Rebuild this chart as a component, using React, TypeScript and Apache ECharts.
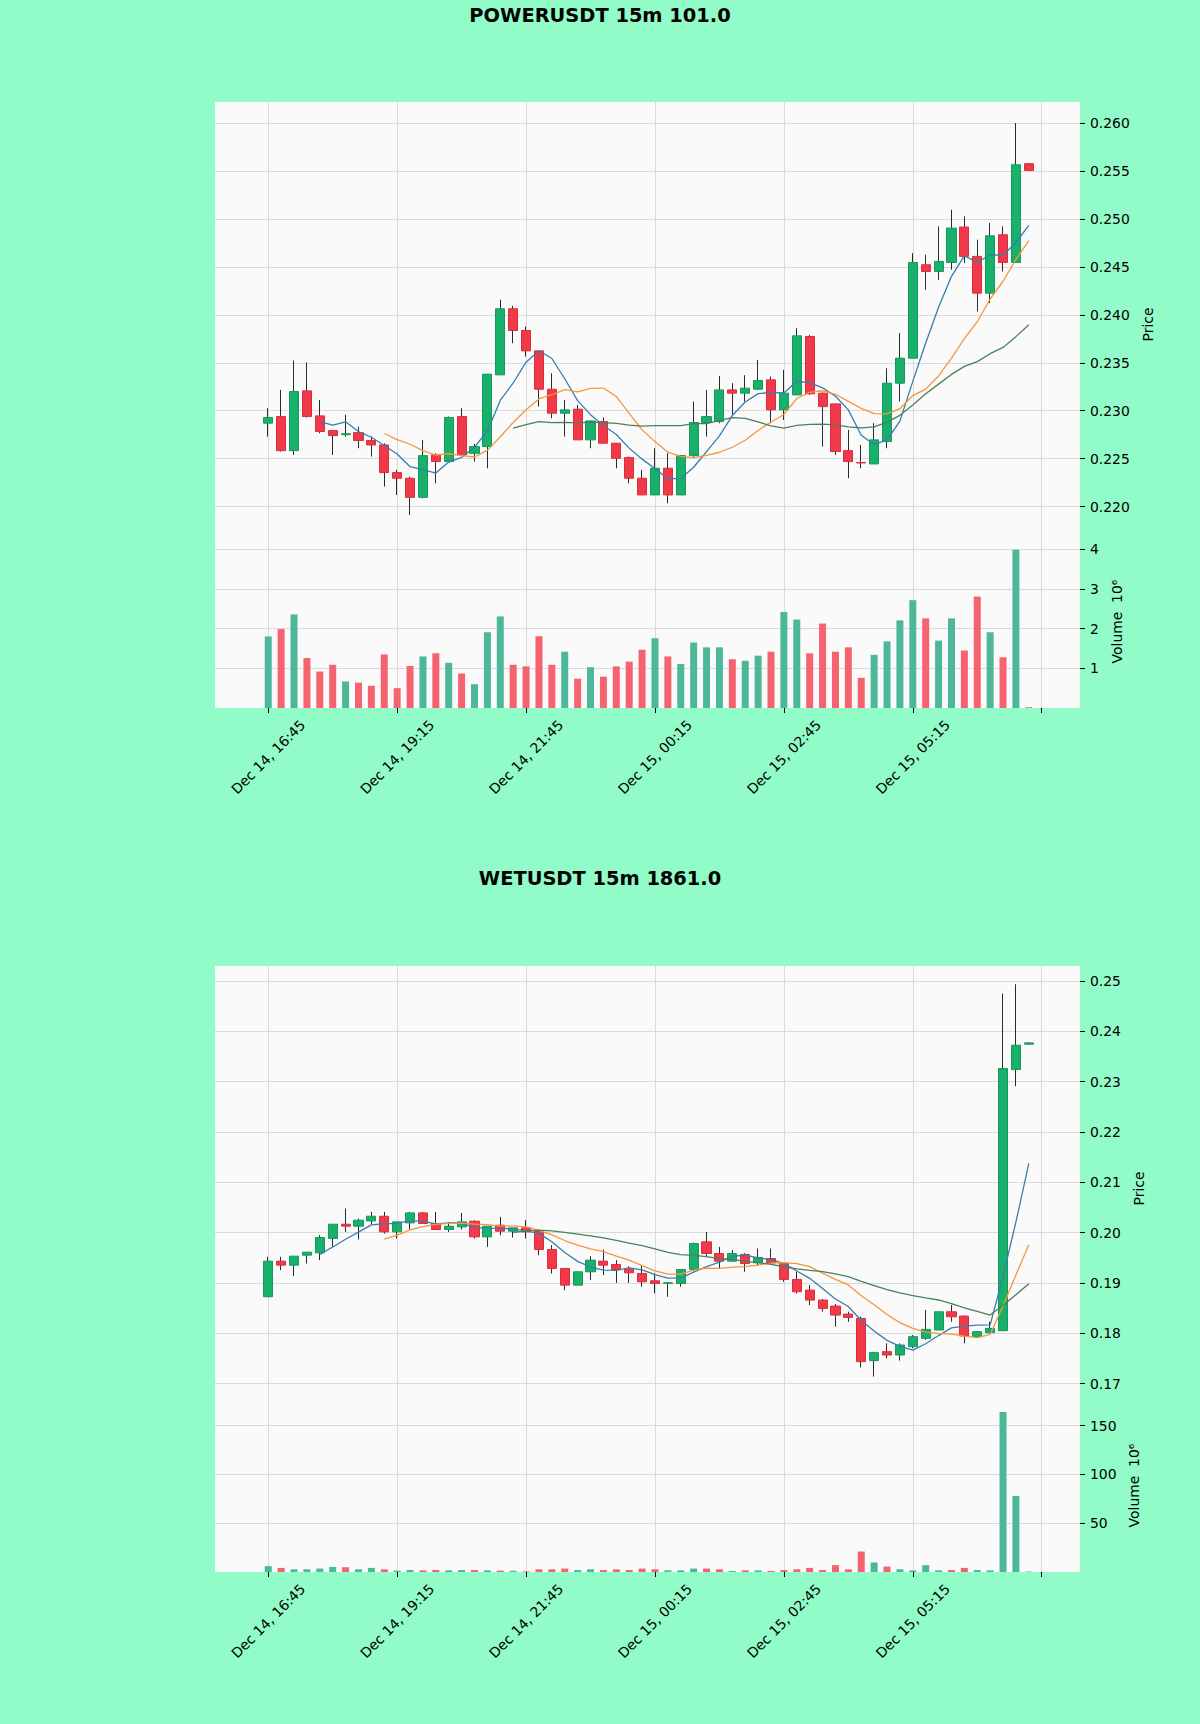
import React, { useEffect, useRef } from "react";
import * as echarts from "echarts";

// ---------- shared axis data ----------
const tickIndex = [0, 10, 20, 30, 40, 50, 60];
const tickLabels = [
  "Dec 14, 16:45",
  "Dec 14, 19:15",
  "Dec 14, 21:45",
  "Dec 15, 00:15",
  "Dec 15, 02:45",
  "Dec 15, 05:15",
];

// ---------- POWERUSDT ----------
const powerTitle = "POWERUSDT 15m 101.0";
const powerOpen = [
  0.2287, 0.22939, 0.22584, 0.23207, 0.22946, 0.22793, 0.2275, 0.22772, 0.22689, 0.22643,
  0.22355, 0.22296, 0.22097, 0.22539, 0.2247, 0.22939, 0.22556, 0.22626, 0.23374, 0.24063,
  0.23837, 0.23624, 0.23224, 0.22974, 0.23016, 0.22696, 0.22887, 0.22661, 0.22511, 0.22296,
  0.22122, 0.224, 0.22122, 0.22532, 0.22877, 0.22887, 0.23217, 0.23183, 0.23224, 0.23322,
  0.23009, 0.23165, 0.23774, 0.23183, 0.23071, 0.22584, 0.2246, 0.22445, 0.22678, 0.23287,
  0.23548, 0.24522, 0.24452, 0.24546, 0.24915, 0.24609, 0.24226, 0.24835, 0.24546, 0.25576,
];
const powerHigh = [
  0.23026, 0.23217, 0.23523, 0.23503, 0.23113, 0.228, 0.22957, 0.22835, 0.2273, 0.2266,
  0.22383, 0.22313, 0.22696, 0.22557, 0.2294, 0.23026, 0.22654, 0.23381, 0.24157, 0.24094,
  0.23878, 0.2363, 0.23391, 0.23113, 0.2306, 0.229, 0.2293, 0.22661, 0.22522, 0.22383,
  0.22609, 0.22557, 0.22539, 0.23096, 0.23217, 0.23363, 0.23287, 0.2337, 0.2353, 0.23357,
  0.23426, 0.23861, 0.23791, 0.2319, 0.23071, 0.228, 0.22643, 0.2287, 0.23443, 0.23809,
  0.24643, 0.24626, 0.24922, 0.25096, 0.25026, 0.24783, 0.24957, 0.24922, 0.26, 0.2558,
];
const powerLow = [
  0.2273, 0.22574, 0.22539, 0.2293, 0.22765, 0.22539, 0.2273, 0.22609, 0.22522, 0.22209,
  0.22122, 0.21913, 0.22087, 0.22243, 0.2247, 0.22539, 0.2247, 0.224, 0.23374, 0.23704,
  0.23565, 0.23043, 0.22922, 0.2273, 0.22696, 0.22609, 0.22661, 0.224, 0.22243, 0.22122,
  0.22122, 0.22035, 0.22122, 0.2252, 0.2273, 0.2287, 0.22957, 0.23096, 0.23217, 0.2287,
  0.22904, 0.23165, 0.23165, 0.22626, 0.22539, 0.22296, 0.224, 0.22445, 0.22609, 0.23096,
  0.23548, 0.24261, 0.24365, 0.2447, 0.24539, 0.24035, 0.24122, 0.24452, 0.2454, 0.255,
];
const powerClose = [
  0.22929, 0.22584, 0.232, 0.22939, 0.22783, 0.22741, 0.2276, 0.22689, 0.22643, 0.22355,
  0.22296, 0.22097, 0.22532, 0.2247, 0.22929, 0.22539, 0.22626, 0.23381, 0.24063, 0.23837,
  0.23624, 0.23224, 0.22974, 0.23009, 0.22696, 0.22893, 0.22661, 0.22504, 0.22296, 0.22122,
  0.224, 0.22122, 0.22532, 0.22877, 0.22939, 0.23217, 0.23183, 0.23235, 0.23315, 0.23009,
  0.23183, 0.23781, 0.23176, 0.23043, 0.22574, 0.2247, 0.22455, 0.22696, 0.23287, 0.23548,
  0.24546, 0.24452, 0.24557, 0.24904, 0.24609, 0.24226, 0.24824, 0.24546, 0.25565, 0.25506,
];
const powerVolume = [
  1.805, 1.99, 2.36, 1.26, 0.92, 1.09, 0.67, 0.64, 0.56, 1.35,
  0.5, 1.06, 1.3, 1.38, 1.14, 0.87, 0.6, 1.91, 2.31, 1.09,
  1.05, 1.81, 1.09, 1.42, 0.74, 1.03, 0.79, 1.05, 1.17, 1.47,
  1.76, 1.3, 1.11, 1.65, 1.53, 1.53, 1.23, 1.19, 1.32, 1.42,
  2.42, 2.23, 1.38, 2.13, 1.42, 1.53, 0.76, 1.34, 1.68, 2.21,
  2.72, 2.26, 1.7, 2.26, 1.45, 2.81, 1.91, 1.28, 3.99, 0.02,
];
const powerPriceTicks = [0.22, 0.225, 0.23, 0.235, 0.24, 0.245, 0.25, 0.255, 0.26];
const powerVolumeTicks = [1, 2, 3, 4];

// ---------- WETUSDT ----------
const wetTitle = "WETUSDT 15m 1861.0";
const wetOpen = [
  0.18724, 0.19431, 0.19352, 0.1955, 0.19597, 0.19881, 0.20165, 0.20126, 0.20231, 0.20324,
  0.20013, 0.20192, 0.2039, 0.20179, 0.2006, 0.20112, 0.20225, 0.19914, 0.20145, 0.20026,
  0.20093, 0.20026, 0.19663, 0.19286, 0.18955, 0.1922, 0.19431, 0.19365, 0.19286, 0.19187,
  0.19041, 0.1899, 0.18988, 0.19266, 0.19815, 0.19583, 0.19431, 0.19564, 0.19398, 0.19484,
  0.19385, 0.19068, 0.18856, 0.18658, 0.18539, 0.1838, 0.18294, 0.17455, 0.17633, 0.17567,
  0.17732, 0.17898, 0.18063, 0.18426, 0.1834, 0.1793, 0.1801, 0.1805, 0.23238, 0.23742,
];
const wetHigh = [
  0.19517, 0.19517, 0.19531, 0.1961, 0.19947, 0.20165, 0.20476, 0.20278, 0.2041, 0.2041,
  0.20212, 0.2041, 0.2041, 0.2041, 0.20212, 0.2039, 0.20245, 0.20126, 0.20311, 0.20093,
  0.20245, 0.2004, 0.19749, 0.19286, 0.1922, 0.19531, 0.19663, 0.1945, 0.1933, 0.19352,
  0.1919, 0.1901, 0.19266, 0.198, 0.20013, 0.19716, 0.1965, 0.1959, 0.19683, 0.19683,
  0.19385, 0.1922, 0.18955, 0.1868, 0.1858, 0.18427, 0.18327, 0.17633, 0.17798, 0.17798,
  0.17964, 0.1846, 0.18426, 0.18559, 0.1835, 0.18045, 0.18228, 0.24748, 0.24934, 0.2378,
];
const wetLow = [
  0.18724, 0.19253, 0.19134, 0.19385, 0.19451, 0.19716, 0.20013, 0.19861, 0.20165, 0.1998,
  0.19881, 0.2006, 0.20179, 0.2006, 0.20013, 0.2006, 0.19881, 0.19716, 0.19947, 0.19901,
  0.19881, 0.19551, 0.19187, 0.18856, 0.18955, 0.19055, 0.19154, 0.19, 0.19, 0.18922,
  0.1879, 0.18724, 0.18922, 0.1924, 0.1953, 0.19286, 0.1942, 0.1922, 0.1935, 0.1939,
  0.19021, 0.1879, 0.18559, 0.18427, 0.18129, 0.18228, 0.17322, 0.17137, 0.17501, 0.17455,
  0.177, 0.1787, 0.18063, 0.18228, 0.17798, 0.17915, 0.18, 0.1804, 0.22907, 0.2374,
];
const wetClose = [
  0.19431, 0.19352, 0.19531, 0.1961, 0.19901, 0.20165, 0.20126, 0.20245, 0.20324, 0.20013,
  0.20212, 0.2039, 0.20179, 0.2006, 0.20126, 0.20212, 0.19914, 0.20126, 0.20026, 0.20093,
  0.20013, 0.19663, 0.19286, 0.18955, 0.1922, 0.19451, 0.19352, 0.19266, 0.192, 0.19021,
  0.18988, 0.19002, 0.19266, 0.19782, 0.19583, 0.19431, 0.19583, 0.19385, 0.19504, 0.19398,
  0.19068, 0.18823, 0.18658, 0.18493, 0.1836, 0.18314, 0.17435, 0.17613, 0.17567, 0.17765,
  0.1793, 0.18076, 0.18426, 0.18327, 0.17944, 0.1803, 0.18096, 0.23258, 0.23722, 0.23768,
];
const wetVolume = [
  6, 4.2, 2.8, 2.8, 3.5, 5.2, 4.9, 2.8, 4.2, 2.8,
  1.4, 2.1, 1.7, 2.1, 1.7, 2.0, 2.0, 1.7, 1.4, 1.2,
  0.7, 2.8, 2.8, 3.5, 2.0, 2.8, 2.0, 2.8, 2.0, 3.5,
  2.8, 1.7, 1.7, 3.5, 3.5, 2.8, 1.0, 1.7, 1.7, 1.0,
  2.0, 2.8, 4.2, 2.0, 7.0, 2.8, 21.0, 9.8, 5.6, 2.8,
  1.7, 7.0, 1.7, 2.0, 4.2, 2.0, 1.7, 164, 78, 0.5,
];
const wetPriceTicks = [0.17, 0.18, 0.19, 0.2, 0.21, 0.22, 0.23, 0.24, 0.25];
const wetVolumeTicks = [50, 100, 150];

// ---------- styles ----------
const PAGE_BG = "#91fcc8";
const PLOT_BG = "#fafafa";
const GRID_LINE = "#dadada";
const UP = "#19b06c";
const UP_EDGE = "#139a5c";
const DOWN = "#f2394a";
const DOWN_EDGE = "#d92f3d";
const VOL_UP = "#4cb899";
const VOL_DOWN = "#f4636f";
const WICK = "#2a2a2a";
const MA_COLORS = ["#377fab", "#f5973a", "#4a8258"];
const MA_PERIODS = [5, 10, 20];
const FONT = "DejaVu Sans";
const FS = 13.9;

const X_MIN = -4.13;
const X_MAX = 62.97;
const LEFT = 215;
const WIDTH = 865;
const PRICE_H = 445;
const VOL_H = 161;

function sma(values: number[], n: number): number[][] {
  const out: number[][] = [];
  for (let i = n - 1; i < values.length; i++) {
    let s = 0;
    for (let k = i - n + 1; k <= i; k++) s += values[k];
    out.push([i, s / n]);
  }
  return out;
}

interface ChartCfg {
  title: string;
  titleTop: number;
  top: number;
  open: number[];
  high: number[];
  low: number[];
  close: number[];
  volume: number[];
  priceMin: number;
  priceMax: number;
  priceTicks: number[];
  priceDigits: number;
  priceNameGap: number;
  volMax: number;
  volTicks: number[];
  volNameGap: number;
}

function build(cfg: ChartCfg, k: number) {
  const gi = k * 2;
  const grids = [
    { left: LEFT, top: cfg.top, width: WIDTH, height: PRICE_H, show: true, backgroundColor: PLOT_BG, borderWidth: 0 },
    { left: LEFT, top: cfg.top + PRICE_H, width: WIDTH, height: VOL_H, show: true, backgroundColor: PLOT_BG, borderWidth: 0 },
  ];
  const splitLine = { show: true, lineStyle: { color: GRID_LINE, width: 1 } };
  const noLine = { show: false, onZero: false };
  const xAxes = [
    {
      type: "value", gridIndex: gi, min: X_MIN, max: X_MAX,
      axisLine: noLine,
      axisTick: { show: false, customValues: tickIndex },
      axisLabel: { show: false, customValues: tickIndex },
      splitLine,
    },
    {
      type: "value", gridIndex: gi + 1, min: X_MIN, max: X_MAX,
      axisLine: noLine,
      axisTick: { show: true, customValues: tickIndex, length: 5, lineStyle: { color: "#000", width: 1 } },
      axisLabel: {
        customValues: tickIndex.slice(0, tickLabels.length),
        formatter: (v: number) => {
          const idx = tickIndex.indexOf(Math.round(v));
          return idx >= 0 && idx < tickLabels.length ? tickLabels[idx] : "";
        },
        rotate: 45, align: "center", verticalAlign: "middle", margin: 49,
        fontSize: FS, fontFamily: FONT, color: "#000",
      },
      splitLine,
    },
  ];
  const yAxes = [
    {
      type: "value", gridIndex: gi, position: "right", min: cfg.priceMin, max: cfg.priceMax,
      axisLine: noLine,
      axisTick: { show: true, customValues: cfg.priceTicks, length: 5, lineStyle: { color: "#000", width: 1 } },
      axisLabel: {
        customValues: cfg.priceTicks,
        formatter: (v: number) => v.toFixed(cfg.priceDigits),
        margin: 10, fontSize: FS, fontFamily: FONT, color: "#000",
      },
      splitLine,
      name: "Price", nameLocation: "middle", nameGap: cfg.priceNameGap, nameRotate: 90,
      nameTextStyle: { fontSize: FS, fontFamily: FONT, color: "#000" },
    },
    {
      type: "value", gridIndex: gi + 1, position: "right", min: 0, max: cfg.volMax,
      axisLine: noLine,
      axisTick: { show: true, customValues: cfg.volTicks, length: 5, lineStyle: { color: "#000", width: 1 } },
      axisLabel: {
        customValues: cfg.volTicks,
        formatter: (v: number) => String(Math.round(v)),
        margin: 10, fontSize: FS, fontFamily: FONT, color: "#000",
      },
      splitLine,
      name: "Volume  10⁶", nameLocation: "middle", nameGap: cfg.volNameGap, nameRotate: 90,
      nameTextStyle: { fontSize: FS, fontFamily: FONT, color: "#000", padding: [0, 0, 0, 12] },
    },
  ];
  const n = cfg.open.length;
  const idx = Array.from({ length: n }, (_, i) => i);
  const series: any[] = [
    {
      type: "candlestick", xAxisIndex: gi, yAxisIndex: gi, silent: true,
      encode: { x: 0, y: [1, 2, 3, 4] },
      barWidth: 1,
      data: idx.map((i) => [i, cfg.open[i], cfg.close[i], cfg.low[i], cfg.high[i]]),
      itemStyle: { color: WICK, color0: WICK, borderColor: WICK, borderColor0: WICK, borderWidth: 1 },
    },
    {
      type: "candlestick", xAxisIndex: gi, yAxisIndex: gi, silent: true,
      encode: { x: 0, y: [1, 2, 3, 4] },
      barWidth: 9.6,
      data: idx.map((i) => [
        i, cfg.open[i], cfg.close[i],
        Math.min(cfg.open[i], cfg.close[i]), Math.max(cfg.open[i], cfg.close[i]),
      ]),
      itemStyle: { color: UP, color0: DOWN, borderColor: UP_EDGE, borderColor0: DOWN_EDGE, borderWidth: 1 },
    },
    {
      type: "bar", xAxisIndex: gi + 1, yAxisIndex: gi + 1, silent: true,
      barWidth: 7,
      data: idx.map((i) => ({
        value: [i, cfg.volume[i]],
        itemStyle: { color: cfg.close[i] >= cfg.open[i] ? VOL_UP : VOL_DOWN },
      })),
    },
  ];
  MA_PERIODS.forEach((p, j) => {
    series.push({
      type: "line", xAxisIndex: gi, yAxisIndex: gi, silent: true,
      data: sma(cfg.close, p), showSymbol: false, symbol: "none",
      lineStyle: { color: MA_COLORS[j], width: 1.3 },
      z: 5,
    });
  });
  const title = {
    text: cfg.title, left: "center", top: cfg.titleTop, padding: 0,
    textStyle: { fontSize: 19.4, fontWeight: "bold", fontFamily: FONT, color: "#000" },
  };
  return { grids, xAxes, yAxes, series, title };
}

const charts: ChartCfg[] = [
  {
    title: powerTitle, titleTop: 6, top: 102,
    open: powerOpen, high: powerHigh, low: powerLow, close: powerClose, volume: powerVolume,
    priceMin: 0.21579, priceMax: 0.26219, priceTicks: powerPriceTicks, priceDigits: 3, priceNameGap: 55,
    volMax: 4.06, volTicks: powerVolumeTicks, volNameGap: 26,
  },
  {
    title: wetTitle, titleTop: 869, top: 966,
    open: wetOpen, high: wetHigh, low: wetLow, close: wetClose, volume: wetVolume,
    priceMin: 0.16454, priceMax: 0.25296, priceTicks: wetPriceTicks, priceDigits: 2, priceNameGap: 46,
    volMax: 165, volTicks: wetVolumeTicks, volNameGap: 43,
  },
];

export default function App() {
  const ref = useRef<HTMLDivElement>(null);
  useEffect(() => {
    document.body.style.margin = "0";
    document.body.style.background = PAGE_BG;
    if (!ref.current) return;
    const chart = echarts.init(ref.current, undefined, { renderer: "svg" });
    const parts = charts.map((c, k) => build(c, k));
    chart.setOption({
      animation: false,
      backgroundColor: PAGE_BG,
      textStyle: { fontFamily: FONT },
      title: parts.map((p) => p.title),
      grid: parts.flatMap((p) => p.grids),
      xAxis: parts.flatMap((p) => p.xAxes),
      yAxis: parts.flatMap((p) => p.yAxes),
      series: parts.flatMap((p) => p.series),
    });
    return () => chart.dispose();
  }, []);
  return (
    <div
      ref={ref}
      style={{ position: "absolute", left: 0, top: 0, width: 1200, height: 1724, background: PAGE_BG }}
    />
  );
}
